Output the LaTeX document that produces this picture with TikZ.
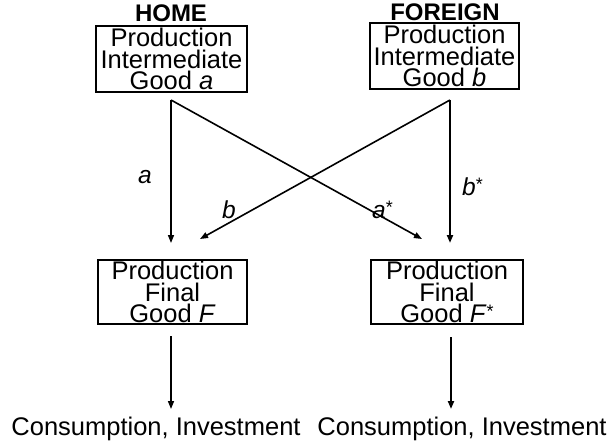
\documentclass[tikz,border=0pt]{standalone}
\usepackage{fontspec}
\setmainfont{Liberation Sans}
\usetikzlibrary{arrows.meta}
\newcommand{\astr}{{\upshape\fontsize{18}{18}\selectfont\raisebox{5pt}{*}}}
\begin{document}
\begin{tikzpicture}[x=1pt,y=-1pt,
  box/.style={draw,line width=2.4pt,inner sep=0pt,align=center,font=\fontsize{25.5}{21.5}\selectfont},
  ttl/.style={font=\fontsize{24}{24}\selectfont\bfseries,inner sep=0pt},
  lbl/.style={font=\fontsize{24.5}{24}\selectfont\itshape,inner sep=0pt,anchor=base west},
  outtxt/.style={font=\fontsize{25.5}{25}\selectfont,inner sep=0pt,anchor=base},
  arr/.style={line width=1.5pt,-{Triangle[length=8pt,width=6pt]}},
  arrthick/.style={line width=2.2pt,-{Triangle[length=8pt,width=6pt]}},
]
\useasboundingbox (0,0) rectangle (611,447);
% titles
\node[ttl] (home) at (171,13.5) {HOME};
\node[ttl] (foreign) at (445,12) {FOREIGN};
% boxes
\node[box,minimum width=151pt,minimum height=66pt] (ia) at (171.5,59) {Production\\Intermediate\\Good \textit{a}};
\node[box,minimum width=149pt,minimum height=66pt] (ib) at (444.5,56) {Production\\Intermediate\\Good \textit{b}};
\node[box,minimum width=149pt,minimum height=64pt] (fa) at (172.5,292) {Production\\Final\\Good \textit{F}};
\node[box,minimum width=152pt,minimum height=64pt] (fb) at (447,292) {Production\\Final\\Good \textit{F}\astr};
% labels
\node[lbl] (la) at (138,183) {a};
\node[lbl] (lb) at (222,218) {b};
\node[lbl] (las) at (372,218) {a\astr};
\node[lbl] (lbs) at (462,195) {b\astr};
% outputs
\node[outtxt] (ca) at (156,435) {Consumption, Investment};
\node[outtxt] (cb) at (462,435) {Consumption, Investment};
% connector points
\coordinate (s1) at (171,100);
\coordinate (s2) at (450,100);
\coordinate (e1) at (171,243);
\coordinate (e2) at (200,239);
\coordinate (e3) at (422,239);
\coordinate (e4) at (450,243);
\coordinate (s5) at (171,336);
\coordinate (e5) at (171,409);
\coordinate (s6) at (451,337);
\coordinate (e6) at (451,409);
% arrows
\draw[arr] (s1) -- (e1);
\draw[arr,line width=1.6pt] (s1) -- (e3);
\draw[arr,line width=1.6pt] (s2) -- (e2);
\draw[arrthick] (s2) -- (e4);
\draw[arr] (s5) -- (e5);
\draw[arrthick] (s6) -- (e6);
\end{tikzpicture}
\end{document}
